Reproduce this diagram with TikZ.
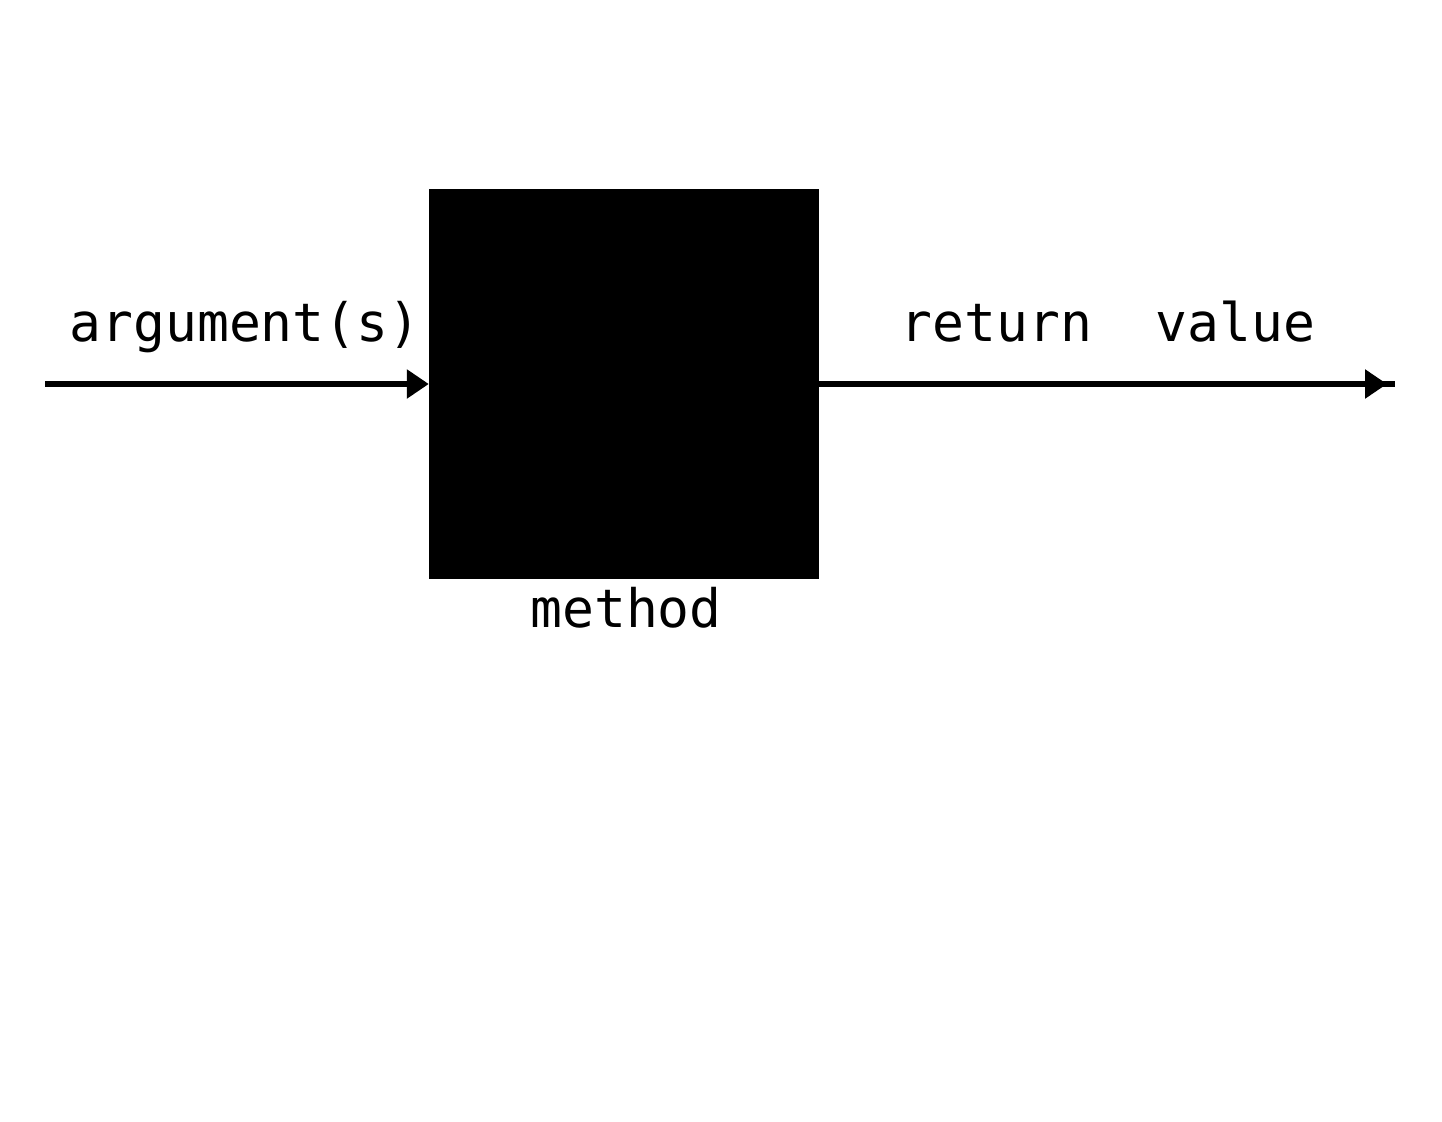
\documentclass[tikz,border=0pt]{standalone}
\usepackage{fontspec}
\setmonofont{DejaVu Sans Mono}
\usetikzlibrary{arrows.meta}
\begin{document}
\begin{tikzpicture}[x=1pt,y=-1pt,
  lbl/.style={font=\ttfamily\fontsize{53}{60}\selectfont, inner sep=0pt, anchor=base},
  conn/.style={line width=6pt, -{Triangle[length=22pt,width=28pt]}},
  plain/.style={line width=6pt}]
\useasboundingbox (0,0) rectangle (1442,1121);
\fill[white] (0,0) rectangle (1442,1121);
\node[fill=black, minimum width=390pt, minimum height=390pt, inner sep=0pt, draw=none] (box) at (624,384) {};
\coordinate (inL) at (45,384);
\coordinate (tipR) at (1387,384);
\coordinate (midR) at (1374,384);
\coordinate (endR) at (1395,384);
\draw[conn] (inL) -- (box.west);
\draw[conn] (box.east) -- (tipR);
\draw[plain] (midR) -- (endR);
\node[lbl] (arg) at (245,341) {argument(s)};
\node[lbl] (ret) at (1108,341) {return\ \ value};
\node[lbl] (meth) at (626,627) {method};
\end{tikzpicture}
\end{document}
